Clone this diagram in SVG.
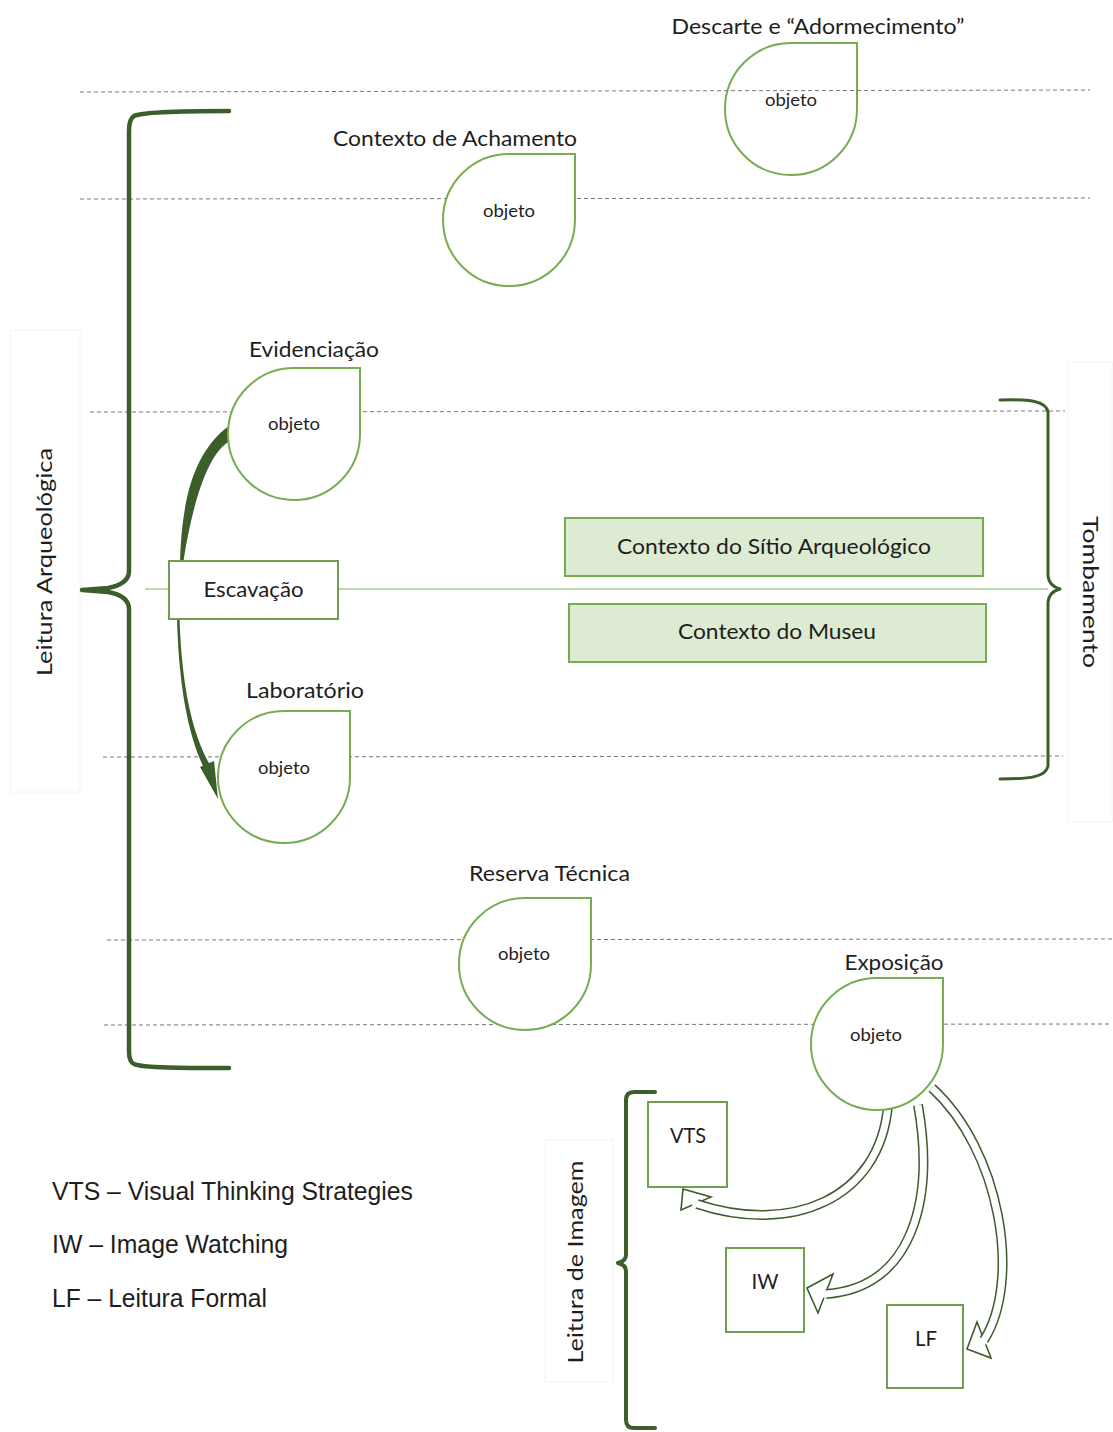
<svg xmlns="http://www.w3.org/2000/svg" width="1113" height="1432" viewBox="0 0 1113 1432">
<defs>
<style>
.lbl{font-family:Lato,"Open Sans","Liberation Sans",sans-serif;font-size:21px;fill:#1e1e1e;text-anchor:middle}
.obj{font-family:Lato,"Open Sans","Liberation Sans",sans-serif;font-size:17px;fill:#1e1e1e;text-anchor:middle}
.leg{font-family:"Liberation Sans",Arial,sans-serif;font-size:25px;fill:#1e1e1e}
.drop{fill:#ffffff;stroke:#76ad52;stroke-width:2}
.dash{stroke:#777777;stroke-width:1;stroke-dasharray:4 3;fill:none}
.brace{fill:none;stroke:#3b5e2b;stroke-linecap:round;stroke-linejoin:round}
.gbox{fill:#dcebd1;stroke:#76ad52;stroke-width:2}
.wbox{fill:#ffffff;stroke:#6f9f52;stroke-width:2}
.faint{fill:none;stroke:#f4f4f4;stroke-width:1}
.bandO{fill:none;stroke:#3d5c2c;stroke-width:10;stroke-linecap:butt}
.bandI{fill:none;stroke:#ffffff;stroke-width:7;stroke-linecap:butt}
.head{fill:#ffffff;stroke:#3d5c2c;stroke-width:1.6;stroke-linejoin:miter}
</style>
</defs>
<rect width="1113" height="1432" fill="#ffffff"/>

<g id="faint-frames">
<rect class="faint" x="10" y="330" width="70" height="462"/>
<rect class="faint" x="545" y="1140" width="68" height="242"/>
<rect class="faint" x="1068" y="362" width="44" height="460"/>
</g>

<g id="guides">
<line class="dash" x1="80" y1="199" x2="1090" y2="198"/>
<line class="dash" x1="90" y1="412" x2="1065" y2="411"/>
<line class="dash" x1="103" y1="757" x2="1063" y2="756"/>
<line class="dash" x1="107" y1="940" x2="1112" y2="939"/>
<line class="dash" x1="104" y1="1025" x2="1112" y2="1024"/>
</g>

<g id="braces">
<path class="brace" stroke-width="4.5" d="M229,111 C185,111 142,112 134,116 Q129,119 129,131 L129,571 Q129,584 108,588 L82,590 L108,592 Q129,596 129,609 L129,1051 Q129,1062 134,1064 C142,1068 185,1068 229,1068"/>
<path class="brace" stroke-width="3" d="M1000,400 C1030,399 1046,401 1048,412 L1048,576 Q1049,586 1060,589 Q1049,592 1048,602 L1048,766 C1046,777 1030,779 1000,779"/>
<path class="brace" stroke-width="4" d="M655,1092 L634,1092 Q626,1092 626,1100 L626,1255 Q626,1261 618,1263 Q626,1265 626,1271 L626,1420 Q626,1428 634,1428 L655,1428"/>
</g>

<g id="connectors">
<line x1="145" y1="589" x2="1048" y2="589" stroke="#a9cd8f" stroke-width="1.5"/>
<path d="M180,561 C182,500 193,452 230,425 L230,441 C208,452 192,505 183.5,561 Z" fill="#3b5e2b"/>
<path d="M177,619 C179,690 189,737 204,768 L210,765 C193,735 182,690 179.5,619 Z" fill="#3b5e2b"/>
<polygon points="200,767 214,761 218,799" fill="#3b5e2b"/>
<polygon class="head" points="683,1189 681,1210 711,1197"/>
<path class="bandO" d="M888,1105 C880,1200 790,1235 697,1204"/>
<path class="bandI" d="M888,1105 C880,1200 790,1235 697,1204 L693,1202.7"/>
<polygon class="head" points="807,1288 833,1274 818,1313"/>
<path class="bandO" d="M918,1105 C935,1200 912,1288 826,1294"/>
<path class="bandI" d="M918,1105 C935,1200 912,1288 826,1294 L822,1294.3"/>
<polygon class="head" points="967,1349 977,1322 991,1358"/>
<path class="bandO" d="M932,1088 C1000,1150 1022,1280 984,1340"/>
<path class="bandI" d="M932,1088 C1000,1150 1022,1280 984,1340 L982,1343.4"/>
</g>

<g id="node-descarte">
<path class="drop" d="M857,43 L857,109 A66,66 0 1 1 791,43 Z"/>
<text class="lbl" x="818" y="34" textLength="293" lengthAdjust="spacingAndGlyphs">Descarte e “Adormecimento”</text>
<text class="obj" x="791" y="106" textLength="52" lengthAdjust="spacingAndGlyphs">objeto</text>
</g>
<g id="node-achamento">
<path class="drop" d="M575,154 L575,220 A66,66 0 1 1 509,154 Z"/>
<text class="lbl" x="455" y="146" textLength="244" lengthAdjust="spacingAndGlyphs">Contexto de Achamento</text>
<text class="obj" x="509" y="217" textLength="52" lengthAdjust="spacingAndGlyphs">objeto</text>
</g>
<g id="node-evidenciacao">
<path class="drop" d="M360,368 L360,434 A66,66 0 1 1 294,368 Z"/>
<text class="lbl" x="314" y="357" textLength="130" lengthAdjust="spacingAndGlyphs">Evidenciação</text>
<text class="obj" x="294" y="430" textLength="52" lengthAdjust="spacingAndGlyphs">objeto</text>
</g>
<g id="node-escavacao">
<rect class="wbox" x="169" y="561" width="169" height="58" stroke="#8dbf6c"/>
<text class="lbl" x="253.5" y="597" font-size="22" textLength="100" lengthAdjust="spacingAndGlyphs">Escavação</text>
</g>
<g id="node-laboratorio">
<path class="drop" d="M350,711 L350,777 A66,66 0 1 1 284,711 Z"/>
<text class="lbl" x="305" y="698" textLength="118" lengthAdjust="spacingAndGlyphs">Laboratório</text>
<text class="obj" x="284" y="774" textLength="52" lengthAdjust="spacingAndGlyphs">objeto</text>
</g>
<g id="node-sitio">
<rect class="gbox" x="565" y="518" width="418" height="58"/>
<text class="lbl" x="774" y="554" textLength="314" lengthAdjust="spacingAndGlyphs">Contexto do Sítio Arqueológico</text>
</g>
<g id="node-museu">
<rect class="gbox" x="569" y="604" width="417" height="58"/>
<text class="lbl" x="777" y="639" textLength="198" lengthAdjust="spacingAndGlyphs">Contexto do Museu</text>
</g>
<g id="node-reserva">
<path class="drop" d="M591,898 L591,964 A66,66 0 1 1 525,898 Z"/>
<text class="lbl" x="549.5" y="881" textLength="161" lengthAdjust="spacingAndGlyphs">Reserva Técnica</text>
<text class="obj" x="524" y="960" textLength="52" lengthAdjust="spacingAndGlyphs">objeto</text>
</g>
<g id="node-exposicao">
<path class="drop" d="M943,978 L943,1044 A66,66 0 1 1 877,978 Z"/>
<text class="lbl" x="894" y="970" textLength="99" lengthAdjust="spacingAndGlyphs">Exposição</text>
<text class="obj" x="876" y="1041" textLength="52" lengthAdjust="spacingAndGlyphs">objeto</text>
</g>
<g id="node-vts">
<rect class="wbox" x="648" y="1102" width="79" height="85"/>
<text class="lbl" x="688" y="1143" textLength="36" lengthAdjust="spacingAndGlyphs">VTS</text>
</g>
<g id="node-iw">
<rect class="wbox" x="726" y="1248" width="78" height="84"/>
<text class="lbl" x="765" y="1289" textLength="27" lengthAdjust="spacingAndGlyphs">IW</text>
</g>
<g id="node-lf">
<rect class="wbox" x="887" y="1305" width="76" height="83"/>
<text class="lbl" x="926" y="1346" textLength="22" lengthAdjust="spacingAndGlyphs">LF</text>
</g>

<g id="guide-top">
<line class="dash" x1="80" y1="92" x2="1090" y2="90"/>
</g>

<g id="side-labels">
<text class="lbl" transform="translate(52,562) rotate(-90)" textLength="228" lengthAdjust="spacingAndGlyphs">Leitura Arqueológica</text>
<text class="lbl" font-size="20" transform="translate(1083,592) rotate(90)" textLength="152" lengthAdjust="spacingAndGlyphs">Tombamento</text>
<text class="lbl" transform="translate(583,1262) rotate(-90)" textLength="203" lengthAdjust="spacingAndGlyphs">Leitura de Imagem</text>
</g>

<g id="legend">
<text class="leg" x="52" y="1200" textLength="361" lengthAdjust="spacingAndGlyphs">VTS – Visual Thinking Strategies</text>
<text class="leg" x="52" y="1253" textLength="236" lengthAdjust="spacingAndGlyphs">IW – Image Watching</text>
<text class="leg" x="52" y="1307" textLength="215" lengthAdjust="spacingAndGlyphs">LF – Leitura Formal</text>
</g>
</svg>
